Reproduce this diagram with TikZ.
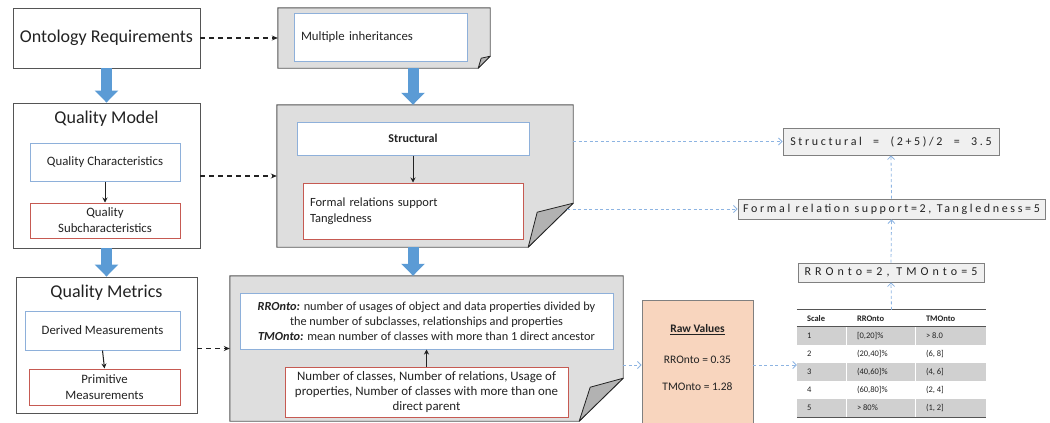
\documentclass[tikz,border=0pt]{standalone}
\usepackage{fontspec}
\setmainfont{Carlito}
\newfontfamily\valfont[LetterSpace=22]{Carlito}
\newfontfamily\valfontwide[LetterSpace=34]{Carlito}
\usetikzlibrary{arrows.meta,calc}

\definecolor{docgray}{HTML}{DEDEDE}
\definecolor{flapgray}{HTML}{B2B2B2}
\definecolor{edgegray}{HTML}{555555}
\definecolor{bluebd}{HTML}{8EB0DA}
\definecolor{redbd}{HTML}{C65A52}
\definecolor{fatblue}{HTML}{5B9BD5}
\definecolor{dashblue}{HTML}{8DB4E2}
\definecolor{rawfill}{HTML}{F8D5BE}
\definecolor{rowgray}{HTML}{D0D0D0}
\definecolor{valfill}{HTML}{F0F0F0}
\definecolor{ink}{HTML}{222222}

\begin{document}
\begin{tikzpicture}[x=1pt, y=-1pt, text=ink,
  plainbox/.style={draw=edgegray, line width=0.9pt, fill=white, inner sep=0pt},
  bluebox/.style={draw=bluebd, line width=1pt, fill=white, inner sep=0pt,
    font=\fontsize{12.8}{15}\selectfont, align=center},
  redbox/.style={draw=redbd, line width=1pt, fill=white, inner sep=0pt,
    font=\fontsize{12.8}{16}\selectfont, align=center},
  docbody/.style={inner sep=0pt},
  docline/.style={draw=edgegray, line width=0.9pt, fill=docgray},
  flap/.style={draw=ink, line width=0.8pt, fill=flapgray, line join=round},
  title/.style={font=\fontsize{18}{20}\selectfont, inner sep=0pt},
  valbox/.style={draw=gray, line width=0.9pt, fill=valfill, inner sep=0pt},
  fatarrow/.style={fatblue, line width=11pt, -{Triangle[width=23pt,length=12pt]}},
  thinarrow/.style={ink, line width=1pt, -{Stealth[length=5pt,width=5pt]}},
  dasharrow/.style={ink, line width=1.2pt, dash pattern=on 5pt off 4pt,
    -{Stealth[length=6pt,width=5pt]}},
  bluedash/.style={dashblue, line width=0.8pt, dash pattern=on 3pt off 2.5pt,
    -{Straight Barb[length=3.5pt,width=7pt]}},
  celltext/.style={anchor=west, inner sep=0pt, font=\fontsize{8.5}{10}\selectfont},
]
\useasboundingbox (0,0) rectangle (1050,423);

% ---------- left column ----------
\node[plainbox, minimum width=187pt, minimum height=60pt,
      font=\fontsize{18}{20}\selectfont] (req) at (106.5,38) {Ontology Requirements};

\node[plainbox, minimum width=187pt, minimum height=145pt] (qm) at (106.5,175.5) {};
\node[title] (qmt) at (106.5,119) {Quality Model};
\node[bluebox, minimum width=150pt, minimum height=38pt] (qc) at (105,162) {Quality Characteristics};
\node[redbox, minimum width=150pt, minimum height=35pt] (qs) at (105,220.5) {Quality\\Subcharacteristics};

\node[plainbox, minimum width=181pt, minimum height=136pt] (qmet) at (106.5,345) {};
\node[title] (qmett) at (106.5,293) {Quality Metrics};
\node[bluebox, minimum width=155pt, minimum height=39pt] (dm) at (102.5,330.5) {Derived Measurements};
\node[redbox, minimum width=151pt, minimum height=36pt] (pm) at (104.5,387) {Primitive\\Measurements};

% ---------- document shapes ----------
\node[docbody, minimum width=212pt, minimum height=60pt] (midoc) at (384,38) {};
\draw[docline] (midoc.north west) -- (midoc.north east) -- ($(midoc.south east)+(0,-12)$)
  -- ($(midoc.south east)+(-12,0)$) -- (midoc.south west) -- cycle;
\draw[flap] ($(midoc.south east)+(0,-12)$) -- ($(midoc.south east)+(-9,-10)$)
  -- ($(midoc.south east)+(-12,0)$) -- cycle;
\node[bluebox, minimum width=173pt, minimum height=48pt, text width=159pt, align=left]
  (mib) at (380.5,37) {Multiple inheritances};

\node[docbody, minimum width=296pt, minimum height=142pt] (stdoc) at (425,176) {};
\draw[docline] (stdoc.north west) -- (stdoc.north east) -- ($(stdoc.south east)+(0,-44)$)
  -- ($(stdoc.south east)+(-45,0)$) -- (stdoc.south west) -- cycle;
\draw[flap] ($(stdoc.south east)+(0,-44)$) -- ($(stdoc.south east)+(-36,-35)$)
  -- ($(stdoc.south east)+(-45,0)$) -- cycle;
\node[bluebox, minimum width=232pt, minimum height=33pt, font=\fontsize{12}{14}\selectfont\bfseries]
  (stb) at (413,138.5) {Structural};
\node[redbox, minimum width=220pt, minimum height=56pt, text width=206pt, align=left,
  font=\fontsize{12.5}{15.5}\selectfont] (fr) at (413,211) {Formal relations support\\Tangledness};

\node[docbody, minimum width=393pt, minimum height=145pt] (metdoc) at (426.5,348.5) {};
\draw[docline] (metdoc.north west) -- (metdoc.north east) -- ($(metdoc.south east)+(0,-43)$)
  -- ($(metdoc.south east)+(-44,0)$) -- (metdoc.south west) -- cycle;
\draw[flap] ($(metdoc.south east)+(0,-43)$) -- ($(metdoc.south east)+(-33,-34)$)
  -- ($(metdoc.south east)+(-44,0)$) -- cycle;
\node[bluebox, minimum width=373pt, minimum height=56pt, font=\fontsize{12.3}{15}\selectfont]
  (metb) at (426.5,321)
  {\textbf{\textit{RROnto:}} number of usages of object and data properties divided by\\
   the number of subclasses, relationships and properties\\
   \textbf{\textit{TMOnto:}} mean number of classes with more than 1 direct ancestor};
\node[redbox, minimum width=283pt, minimum height=50pt, font=\fontsize{12.9}{15}\selectfont]
  (metr) at (426.5,392)
  {Number of classes, Number of relations, Usage of\\
   properties, Number of classes with more than one\\
   direct parent};

% ---------- raw values ----------
\node[draw=gray, line width=0.9pt, fill=rawfill, inner sep=0pt,
      minimum width=111pt, minimum height=130pt] (raw) at (697.5,365) {};
\node[inner sep=0pt, font=\fontsize{11.5}{13}\selectfont\bfseries] (rawt) at (697.5,330)
  {\underline{Raw Values}};
\node[inner sep=0pt, font=\fontsize{11.5}{13}\selectfont] (rawa) at (697.5,360) {RROnto = 0.35};
\node[inner sep=0pt, font=\fontsize{11.5}{13}\selectfont] (rawb) at (697.5,387) {TMOnto = 1.28};

% ---------- scale table ----------
\node[inner sep=0pt, minimum width=189pt, minimum height=107pt] (tbl) at (891.5,363.5) {};
\foreach \r in {17,53,89}
  \fill[rowgray] ($(tbl.north west)+(0,\r)$) rectangle ($(tbl.north east)+(0,\r+18)$);
\foreach \c in {50,119}
  \draw[white, line width=1.2pt] ($(tbl.north west)+(\c,17)$) -- ($(tbl.north west)+(\c,107)$);
\draw[edgegray, line width=1.3pt] (tbl.north west) -- (tbl.north east);
\draw[edgegray, line width=1.3pt] ($(tbl.north west)+(0,17)$) -- ($(tbl.north east)+(0,17)$);
\draw[edgegray, line width=1.3pt] (tbl.south west) -- (tbl.south east);
\node[celltext, font=\fontsize{8.5}{10}\selectfont\bfseries] (hs) at ($(tbl.north west)+(10,8.5)$) {Scale};
\node[celltext, font=\fontsize{8.5}{10}\selectfont\bfseries] (hr) at ($(tbl.north west)+(60,8.5)$) {RROnto};
\node[celltext, font=\fontsize{8.5}{10}\selectfont\bfseries] (ht) at ($(tbl.north west)+(129,8.5)$) {TMOnto};
\foreach \s/\rr/\tt [count=\i] in {1/{[0,20]\%}/{> 8.0}, 2/{(20,40]\%}/{(6, 8]},
    3/{(40,60]\%}/{(4, 6]}, 4/{(60,80]\%}/{(2, 4]}, 5/{> 80\%}/{(1, 2]}} {
  \node[celltext] (s\i) at ($(tbl.north west)+(10,8+18*\i)$) {\s};
  \node[celltext] (r\i) at ($(tbl.north west)+(60,8+18*\i)$) {\rr};
  \node[celltext] (t\i) at ($(tbl.north west)+(129,8+18*\i)$) {\tt};
}

% ---------- computed values ----------
\node[valbox, minimum width=216pt, minimum height=27pt, font=\fontsize{12}{13}\valfont]
  (sv) at (891,141.5) {Structural\hspace{6pt} = \hspace{6pt}(2+5)/2\hspace{6pt} = \hspace{6pt}3.5};
\node[valbox, minimum width=307pt, minimum height=20pt, font=\fontsize{12}{13}\valfont]
  (fv) at (891.5,209) {Formal relation support=2, Tangledness=5};
\node[valbox, minimum width=186pt, minimum height=19pt, font=\fontsize{12}{13}\valfontwide]
  (rv) at (891,272.5) {RROnto=2, TMOnto=5};

% ---------- connectors ----------
\draw[fatarrow] (req.south) -- (qm.north);
\draw[fatarrow] (qm.south) -- (qmet.north);
\draw[fatarrow] (midoc.south -| stb) -- (stdoc.north -| stb);
\draw[fatarrow] (stdoc.south -| stb) -- (metdoc.north -| stb);

\draw[thinarrow] (qc.south) -- (qs.north);
\draw[thinarrow] (dm.south) -- (pm.north);
\draw[thinarrow] (stb.south) -- (fr.north);
\draw[thinarrow] (metr.north) -- (metb.south -| metr.north);

\draw[dasharrow] (req.east) -- (midoc.west);
\draw[dasharrow] (qm.east |- stdoc.west) -- (stdoc.west);
\draw[dasharrow] (qmet.east |- metdoc.west) -- (metdoc.west);

\coordinate (frout) at ($(stdoc.east |- fv.west)+(-6,0)$);
\draw[bluedash] (stdoc.east |- sv.west) -- (sv.west);
\draw[bluedash] (frout) -- (fv.west);
\draw[bluedash] (metdoc.east |- raw.west) -- (raw.west);
\draw[bluedash] (raw.east) -- (tbl.west |- raw.east);
\draw[bluedash] (tbl.north) -- (rv.south);
\draw[bluedash] (rv.north) -- (fv.south);
\draw[bluedash] (fv.north) -- (sv.south);
\end{tikzpicture}
\end{document}
